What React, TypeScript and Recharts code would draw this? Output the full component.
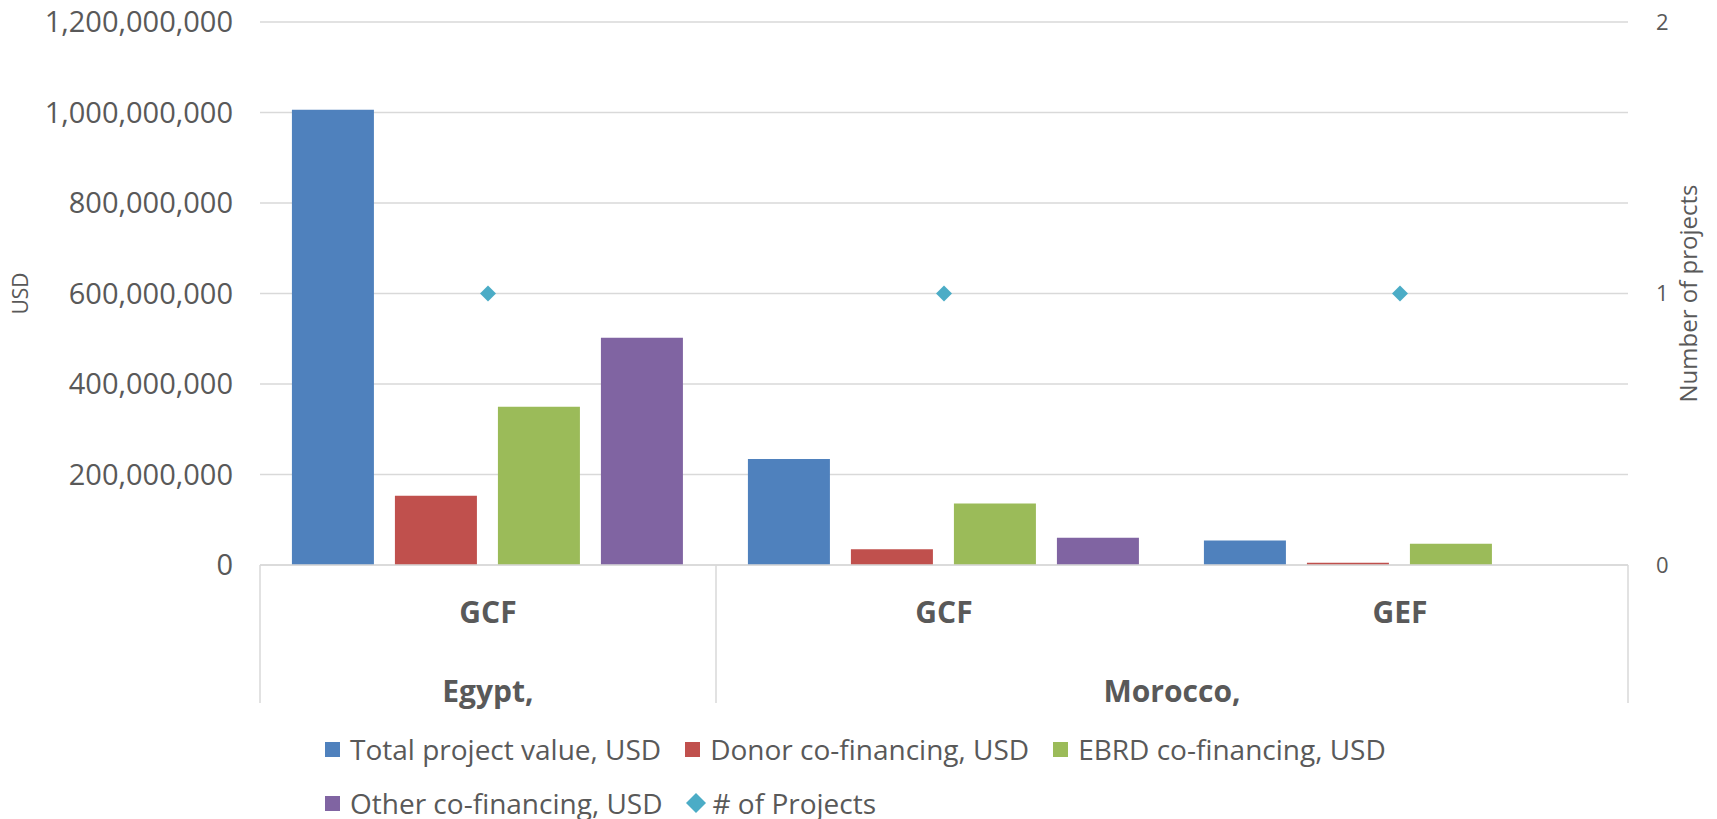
import {
  ComposedChart,
  Bar,
  Scatter,
  XAxis,
  YAxis,
  CartesianGrid,
  Legend,
} from "recharts";

const funds = ["GCF", "GCF", "GEF"];
const countries = ["Egypt,", "Morocco,", "Morocco,"];
const totalValue = [1006000000, 234000000, 54000000];
const donorCofin = [153000000, 35000000, 5000000];
const ebrdCofin = [350000000, 136000000, 47000000];
const otherCofin = [502000000, 60000000, 0];
const projectCount = [1, 1, 1];

const usdTicks = [0, 200000000, 400000000, 600000000, 800000000, 1000000000, 1200000000];
const countTicks = [0, 1, 2];

const W = 1717;
const H = 819;
const LEFT_W = 260;
const RIGHT_W = 89;
const PLOT_W = W - LEFT_W - RIGHT_W;
const FONT = "'Open Sans', sans-serif";
const TEXT = "#595959";
const GRID = "#D9D9D9";

const series = [
  { key: "total", name: "Total project value, USD", color: "#4F81BD" },
  { key: "donor", name: "Donor co-financing, USD", color: "#C0504D" },
  { key: "ebrd", name: "EBRD co-financing, USD", color: "#9BBB59" },
  { key: "other", name: "Other co-financing, USD", color: "#8064A2" },
];
const projectsName = "# of Projects";
const projectsColor = "#4BACC6";

const data = funds.map((f, i) => ({
  fund: f,
  country: countries[i],
  total: totalValue[i],
  donor: donorCofin[i],
  ebrd: ebrdCofin[i],
  other: otherCofin[i],
  projects: projectCount[i],
}));

const CategoryTick = (props: any) => {
  const { x, y, payload, index } = props;
  const band = PLOT_W / data.length;
  const country = countries[index];
  const isFirst = index === 0 || countries[index - 1] !== country;
  const isLast = index === countries.length - 1;
  let runLen = 1;
  while (index + runLen < countries.length && countries[index + runLen] === country) runLen++;
  const boxH = 138;
  return (
    <g>
      <text
        x={x}
        y={y + 46}
        textAnchor="middle"
        dominantBaseline="central"
        fontFamily={FONT}
        fontWeight="bold"
        fontSize={30}
        fill={TEXT}
      >
        {payload.value}
      </text>
      {isFirst && (
        <>
          <line x1={x - band / 2} x2={x - band / 2} y1={y} y2={y + boxH} stroke={GRID} strokeWidth={1.5} />
          <text
            x={x + ((runLen - 1) * band) / 2}
            y={y + 125}
            textAnchor="middle"
            dominantBaseline="central"
            fontFamily={FONT}
            fontWeight="bold"
            fontSize={30}
            fill={TEXT}
          >
            {country}
          </text>
        </>
      )}
      {isLast && (
        <line x1={x + band / 2} x2={x + band / 2} y1={y} y2={y + boxH} stroke={GRID} strokeWidth={1.5} />
      )}
    </g>
  );
};

const Diamond = (props: any) => {
  const { cx, cy } = props;
  const r = 8;
  return (
    <polygon
      points={`${cx},${cy - r} ${cx + r},${cy} ${cx},${cy + r} ${cx - r},${cy}`}
      fill={projectsColor}
    />
  );
};

const LegendItem = ({
  name,
  color,
  diamond,
}: {
  name: string;
  color: string;
  diamond?: boolean;
}) => (
  <div style={{ display: "flex", alignItems: "center", marginRight: 24 }}>
    {diamond ? (
      <svg width={20} height={20} style={{ marginRight: 6 }}>
        <polygon points="10,0 20,10 10,20 0,10" fill={color} />
      </svg>
    ) : (
      <div style={{ width: 15, height: 15, background: color, marginRight: 10 }} />
    )}
    <span>{name}</span>
  </div>
);

const renderLegend = () => (
  <div style={{ fontFamily: FONT, fontSize: 28, color: TEXT, lineHeight: "54px", whiteSpace: "nowrap" }}>
    <div style={{ display: "flex" }}>
      {series.slice(0, 3).map((s) => (
        <LegendItem key={s.key} name={s.name} color={s.color} />
      ))}
    </div>
    <div style={{ display: "flex" }}>
      <LegendItem name={series[3].name} color={series[3].color} />
      <LegendItem name={projectsName} color={projectsColor} diamond />
    </div>
  </div>
);

const AxisTitle = ({ viewBox, value, dx, size }: any) => {
  const cx = viewBox.x + dx;
  const cy = viewBox.y + viewBox.height / 2;
  return (
    <text
      x={cx}
      y={cy}
      transform={`rotate(-90, ${cx}, ${cy})`}
      textAnchor="middle"
      dominantBaseline="central"
      fontFamily={FONT}
      fontSize={size}
      fill={TEXT}
    >
      {value}
    </text>
  );
};

export default function App() {
  return (
    <div style={{ position: "absolute", left: 0, top: 0, background: "#fff" }}>
      <ComposedChart
        width={W}
        height={H}
        data={data}
        margin={{ top: 22, right: 0, bottom: 116, left: 0 }}
        barCategoryGap="7%"
        barGap={21}
      >
        <CartesianGrid yAxisId="left" vertical={false} stroke={GRID} strokeWidth={1.5} />
        <XAxis
          dataKey="fund"
          height={138}
          axisLine={{ stroke: GRID, strokeWidth: 1.5 }}
          tickLine={false}
          tickSize={0}
          tickMargin={0}
          interval={0}
          tick={<CategoryTick />}
        />
        <YAxis
          yAxisId="left"
          width={LEFT_W}
          domain={[0, 1200000000]}
          ticks={usdTicks}
          axisLine={false}
          tickLine={false}
          tickMargin={21}
          tick={{ fontFamily: FONT, fontSize: 29, fill: TEXT }}
          tickFormatter={(v: number) => v.toLocaleString("en-US")}
          label={{ content: (p: any) => <AxisTitle {...p} value="USD" dx={20} size={21} /> }}
        />
        <YAxis
          yAxisId="right"
          orientation="right"
          width={RIGHT_W}
          domain={[0, 2]}
          ticks={countTicks}
          axisLine={false}
          tickLine={false}
          tickMargin={22}
          tick={{ fontFamily: FONT, fontSize: 22, fill: TEXT }}
          label={{ content: (p: any) => <AxisTitle {...p} value="Number of projects" dx={59} size={24} /> }}
        />
        {series.map((s) => (
          <Bar
            key={s.key}
            yAxisId="left"
            dataKey={s.key}
            name={s.name}
            fill={s.color}
            isAnimationActive={false}
          />
        ))}
        <Scatter
          yAxisId="right"
          dataKey="projects"
          name={projectsName}
          fill={projectsColor}
          shape={<Diamond />}
          isAnimationActive={false}
        />
        <Legend
          layout="horizontal"
          verticalAlign="middle"
          content={renderLegend}
          wrapperStyle={{ left: 325, top: 722, width: 1300, height: 108 }}
        />
      </ComposedChart>
    </div>
  );
}
